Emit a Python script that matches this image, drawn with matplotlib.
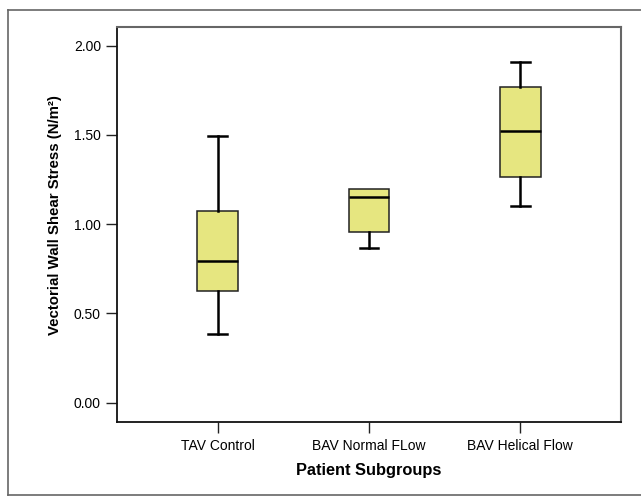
import matplotlib
matplotlib.use('Agg')
import matplotlib.pyplot as plt
from matplotlib.lines import Line2D

# box summary values
groups = ['TAV Control', 'BAV Normal FLow', 'BAV Helical Flow']
whislo = [0.383, 0.866, 1.104]
q1 = [0.627, 0.955, 1.263]
med = [0.796, 1.151, 1.522]
q3 = [1.076, 1.195, 1.769]
whishi = [1.494, 1.195, 1.909]

yticks = [0.0, 0.5, 1.0, 1.5, 2.0]

plt.rcParams['font.family'] = ['Liberation Sans', 'DejaVu Sans']

fig = plt.figure(figsize=(6.41, 4.96), dpi=100)
ax = fig.add_axes([117/641, 1-422/496, 504/641, 395/496])

stats = []
for i in range(len(groups)):
    stats.append({'label': groups[i], 'whislo': whislo[i], 'q1': q1[i],
                  'med': med[i], 'q3': q3[i], 'whishi': whishi[i], 'fliers': []})

bp = ax.bxp(stats, positions=[1, 2, 3], widths=0.27, patch_artist=True, showfliers=False,
            boxprops=dict(facecolor='#E6E680', edgecolor='#222222', linewidth=1.1),
            medianprops=dict(color='black', linewidth=1.8),
            whiskerprops=dict(color='black', linewidth=1.8),
            capprops=dict(color='black', linewidth=1.8), capwidths=0.125)

# no upper whisker when it coincides with the box edge
for i in range(len(groups)):
    if whishi[i] <= q3[i]:
        bp['caps'][2*i + 1].set_visible(False)
        bp['whiskers'][2*i + 1].set_visible(False)
    if whislo[i] >= q1[i]:
        bp['caps'][2*i].set_visible(False)
        bp['whiskers'][2*i].set_visible(False)

ax.set_xlim(1/3, 3 + 2/3)
ax.set_ylim(-0.108, 2.105)
ax.set_yticks(yticks)
ax.set_yticklabels(['%.2f' % v for v in yticks])
ax.tick_params(axis='both', labelsize=10, length=8, width=1, color='#222222')
ax.tick_params(axis='y', pad=3.6)
ax.tick_params(axis='x', pad=4)

for s in ['left', 'bottom']:
    ax.spines[s].set_color('#111111')
    ax.spines[s].set_linewidth(1.3)
for s in ['top', 'right']:
    ax.spines[s].set_color('#666666')
    ax.spines[s].set_linewidth(1.5)

fig.text(55/641, 1-215/496, 'Vectorial Wall Shear Stress (N/m²)', rotation=90,
         ha='center', va='center', fontsize=10.8, fontweight='bold')
fig.text(369/641, 1-470/496, 'Patient Subgroups', ha='center', va='center',
         fontsize=11.8, fontweight='bold')

# outer frame (top, left, bottom)
x0, yt, yb = 8/641, 1-10/496, 1/496
for xs, ys in [([x0, 1], [yt, yt]), ([x0, x0], [yb, yt]), ([x0, 1], [yb, yb])]:
    fig.add_artist(Line2D(xs, ys, transform=fig.transFigure, color='#666666', lw=1.2))

fig.savefig('out.png', dpi=100)
